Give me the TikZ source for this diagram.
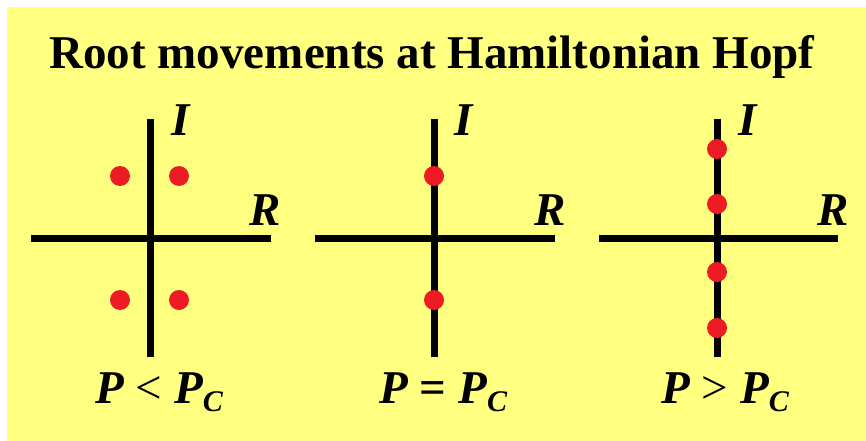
\documentclass[tikz,border=0pt]{standalone}
\usepackage{fontspec}
\setmainfont{Liberation Serif}
\usetikzlibrary{positioning}
\definecolor{bgyellow}{RGB}{255,255,128}
\definecolor{rootred}{RGB}{237,28,36}
\newcommand{\Pcrit}{P\raisebox{-8pt}{\fontsize{30}{30}\selectfont C}}

\begin{document}
\begin{tikzpicture}[x=1pt, y=-1pt,
    axis/.style={line width=7pt},
    root/.style={circle, fill=rootred, inner sep=0pt, minimum size=20pt},
    lbl/.style={font=\fontsize{47}{47}\selectfont\bfseries\itshape, inner sep=0pt, anchor=base}]
    \useasboundingbox (0,0) rectangle (866,441);
    \fill[bgyellow] (7,7) rectangle (866,441);
    \node[font=\fontsize{47}{47}\selectfont\bfseries, inner sep=0pt, anchor=base] (title) at (432,69) {Root movements at Hamiltonian Hopf};

    % P < P_C
    \coordinate (l1) at (31,238); \coordinate (r1) at (271,238);
    \coordinate (t1) at (150,119); \coordinate (b1) at (150,357);
    \draw[axis] (l1) -- (r1);
    \draw[axis] (t1) -- (b1);
    \node[root] (a1) at (120,176) {};
    \node[root] (a2) at (179,176) {};
    \node[root] (a3) at (120,300) {};
    \node[root] (a4) at (179,300) {};
    \node[lbl] (i1) at (181,135) {I};
    \node[lbl] (re1) at (265,225) {R};
    \node[lbl] (p1) at (159,403) {P \textnormal{<} \Pcrit};

    % P = P_C
    \coordinate (l2) at (315,238); \coordinate (r2) at (555,238);
    \coordinate (t2) at (434,119); \coordinate (b2) at (434,357);
    \draw[axis] (l2) -- (r2);
    \draw[axis] (t2) -- (b2);
    \node[root] (c1) at (434,176) {};
    \node[root] (c2) at (434,300) {};
    \node[lbl] (i2) at (464,135) {I};
    \node[lbl] (re2) at (550,225) {R};
    \node[lbl] (p2) at (443,403) {P \textup{=} \Pcrit};

    % P > P_C
    \coordinate (l3) at (599,238); \coordinate (r3) at (838,238);
    \coordinate (t3) at (717,119); \coordinate (b3) at (717,357);
    \draw[axis] (l3) -- (r3);
    \draw[axis] (t3) -- (b3);
    \node[root] (d1) at (717,149) {};
    \node[root] (d2) at (717,204) {};
    \node[root] (d3) at (717,272) {};
    \node[root] (d4) at (717,328) {};
    \node[lbl] (i3) at (748,135) {I};
    \node[lbl] (re3) at (833,225) {R};
    \node[lbl] (p3) at (725,403) {P \textnormal{>} \Pcrit};
\end{tikzpicture}
\end{document}
